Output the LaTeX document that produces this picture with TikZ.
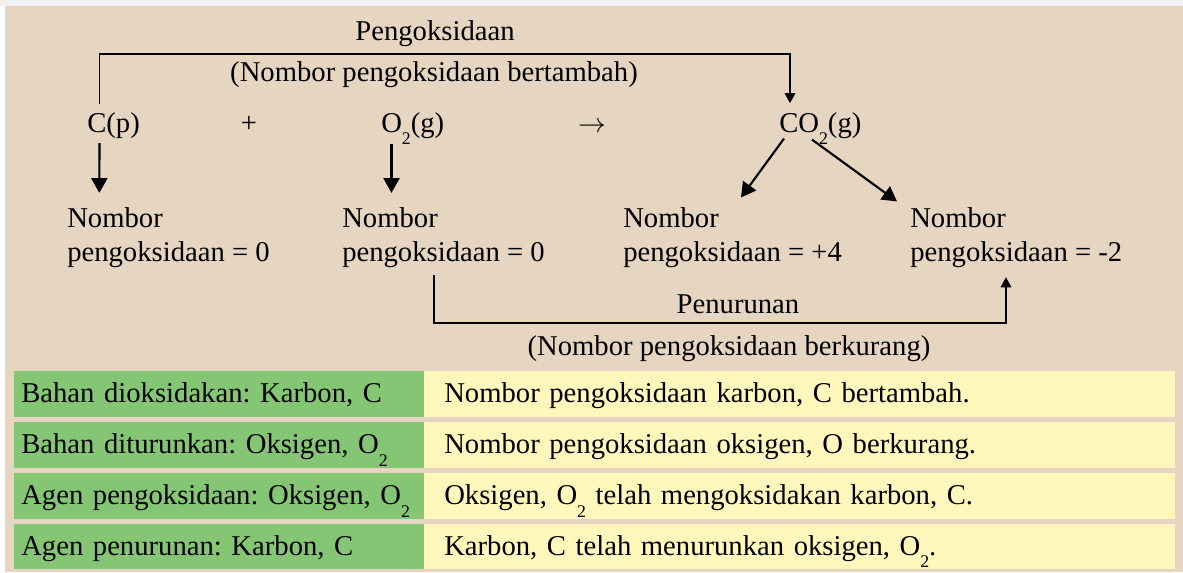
\documentclass[tikz,border=0pt]{standalone}
\usepackage{fontspec}
\setmainfont{Liberation Serif}
\usetikzlibrary{positioning,calc,arrows.meta}
\frenchspacing

\definecolor{sandbg}{HTML}{E5D5C1}
\definecolor{cellgreen}{HTML}{85C675}
\definecolor{cellyellow}{HTML}{FFF7BB}
\newcommand{\lowsub}[1]{\raisebox{-0.45em}{\scalebox{0.62}{#1}}}

\tikzset{
  lbl/.style={inner sep=0pt, font=\fontsize{21.5}{25.5}\selectfont},
  numbox/.style={lbl, align=left, anchor=base west},
  bigarrow/.style={line width=1.6pt, -{Triangle[length=11pt,width=12pt]}},
  bracket/.style={line width=0.8pt, -{Triangle[length=7.5pt,width=8pt]}},
  cell/.style={lbl, anchor=north west, align=left, minimum height=34.2pt,
    inner ysep=0pt, text height=23.6pt, text depth=10.6pt},
  greencell/.style={cell, fill=cellgreen, inner xsep=5.8pt, text width=296.4pt},
  yellowcell/.style={cell, fill=cellyellow, inner xsep=15pt, text width=533.2pt}
}

\begin{document}
\begin{tikzpicture}[x=0.75pt, y=-0.75pt]
    \useasboundingbox (0,0) rectangle (1183,572);
    % background
    \fill[white] (0,0) rectangle (1183,572);
    \fill[black!5] (0,0) rectangle (1183,6);
    \fill[sandbg] (5,6) rectangle (1183,572);

    % equation
    \node[lbl, anchor=base west] (cp) at (87,132) {C(p)};
    \node[lbl, anchor=base] (plus) at (249,132) {+};
    \node[lbl, anchor=base west] (otwo) at (381,132) {O\lowsub{2}(g)};
    \node[lbl, anchor=base] (yields) at (592,132) {$\rightarrow$};
    \node[lbl, anchor=base west] (cotwo) at (779,132) {CO\lowsub{2}(g)};

    % oxidation numbers (base = last line)
    \node[numbox] (ncp) at (67,261) {Nombor\\pengoksidaan = 0};
    \node[numbox] (notwo) at (342,261) {Nombor\\pengoksidaan = 0};
    \node[numbox] (nc) at (623,261) {Nombor\\pengoksidaan = +4};
    \node[numbox] (no) at (910,261) {Nombor\\pengoksidaan = -2};

    \draw[bigarrow] ($(cp.south west)+(12.5,4.7)$) -- ($(ncp.north west)+(32.3,-14)$);
    \draw[bigarrow] ($(otwo.south west)+(10.5,-1.6)$) -- ($(notwo.north west)+(49.5,-14)$);
    \draw[bigarrow] ($(cotwo.south west)+(5,-6.6)$) -- ($(nc.north west)+(118,-9.4)$);
    \draw[bigarrow] ($(cotwo.south west)+(33,-5.6)$) -- ($(no.north west)+(-13,-5.4)$);

    % oxidation bracket
    \coordinate (oxbar) at (435,54);
    \draw[bracket] ($(cp.north west)+(12.5,-7.6)$) |- (oxbar) -| ($(cotwo.north west)+(11,-8.7)$);
    \node[lbl, anchor=base] (oxname) at (435,40) {Pengoksidaan};
    \node[lbl, anchor=base] (oxnote) at (434,81) {(Nombor pengoksidaan bertambah)};

    % reduction bracket
    \coordinate (redbar) at (738,323);
    \draw[bracket] ($(notwo.south west)+(92,7.8)$) |- (redbar) -| ($(no.south west)+(96,9.8)$);
    \node[lbl, anchor=base] (redname) at (738,313) {Penurunan};
    \node[lbl, anchor=base] (rednote) at (729,355) {(Nombor pengoksidaan berkurang)};

    % table
    \node[greencell] (g1) at (13.3,371) {Bahan dioksidakan: Karbon, C};
    \node[yellowcell] (y1) at (424,371) {Nombor pengoksidaan karbon, C bertambah.};
    \node[greencell] (g2) at (13.3,421.7) {Bahan diturunkan: Oksigen, O\lowsub{2}};
    \node[yellowcell] (y2) at (424,421.7) {Nombor pengoksidaan oksigen, O berkurang.};
    \node[greencell] (g3) at (13.3,472.7) {Agen pengoksidaan: Oksigen, O\lowsub{2}};
    \node[yellowcell] (y3) at (424,472.7) {Oksigen, O\lowsub{2} telah mengoksidakan karbon, C.};
    \node[greencell] (g4) at (13.3,523.3) {Agen penurunan: Karbon, C};
    \node[yellowcell] (y4) at (424,523.3) {Karbon, C telah menurunkan oksigen, O\lowsub{2}.};
\end{tikzpicture}
\end{document}
